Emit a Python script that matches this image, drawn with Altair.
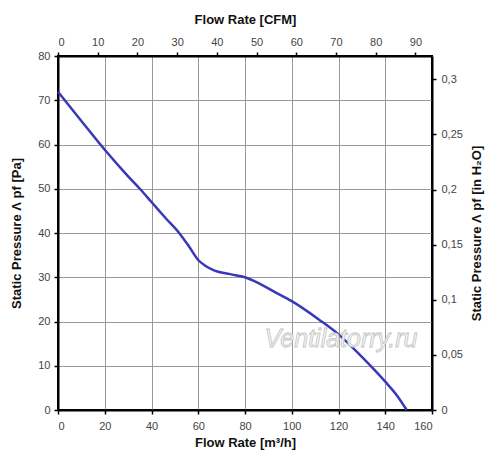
import altair as alt
import pandas as pd

# Fan curve: flow (m3/h) vs static pressure (Pa)
flow = [0, 10, 20, 30, 35, 40, 46, 52, 56, 60, 63, 67, 73.6, 80, 86.4, 93, 100, 112, 120, 130, 140, 145, 149.2]
pressure = [71.9, 65.3, 58.8, 52.8, 50.0, 47.0, 43.4, 39.9, 37.0, 33.9, 32.6, 31.5, 30.7, 30.0, 28.5, 26.6, 24.6, 20.3, 17.1, 12.0, 6.4, 3.3, 0]

x_ticks = [0, 20, 40, 60, 80, 100, 120, 140, 160]
y_ticks = [0, 10, 20, 30, 40, 50, 60, 70, 80]
cfm_ticks = [0, 10, 20, 30, 40, 50, 60, 70, 80, 90]
inh2o_ticks = [0, 0.05, 0.1, 0.15, 0.2, 0.25, 0.3]

M3H_PER_CFM = 1.699
PA_PER_INH2O = 249.089

df = pd.DataFrame({"flow": flow, "pressure": pressure})

font = "Liberation Sans"
common_axis = dict(
    labelFont=font, labelFontSize=11, labelColor="#444444",
    titleFont=font, titleFontSize=13, titleFontWeight="bold", titleColor="#111111",
    domainColor="#000000", domainWidth=2, tickColor="#000000", tickWidth=1.5, tickSize=4,
)

main = alt.Chart(df).mark_line(color="#3838b8", strokeWidth=2.5, interpolate="monotone").encode(
    x=alt.X("flow:Q",
            scale=alt.Scale(domain=[0, 160], nice=False),
            axis=alt.Axis(title="Flow Rate [m³/h]", values=x_ticks, grid=True,
                          gridColor="#999999", gridWidth=1, labelPadding=6,
                          titlePadding=5, **common_axis)),
    y=alt.Y("pressure:Q",
            scale=alt.Scale(domain=[0, 80], nice=False),
            axis=alt.Axis(title="Static Pressure Λ pf [Pa]", values=y_ticks, grid=True,
                          gridColor="#999999", gridWidth=1, labelPadding=4,
                          titleAngle=270, titleBaseline="bottom",
                          titleX=-35, titleY=177, **common_axis)),
)

second = alt.Chart(df).transform_calculate(
    cfm=f"datum.flow / {M3H_PER_CFM}",
    inh2o=f"datum.pressure / {PA_PER_INH2O}",
).mark_line(opacity=0).encode(
    x=alt.X("cfm:Q",
            scale=alt.Scale(domain=[0, 160 / M3H_PER_CFM], nice=False),
            axis=alt.Axis(orient="top", title="Flow Rate [CFM]", values=cfm_ticks,
                          grid=False, labelPadding=5, titlePadding=10, **common_axis)),
    y=alt.Y("inh2o:Q",
            scale=alt.Scale(domain=[0, 80 / PA_PER_INH2O], nice=False),
            axis=alt.Axis(orient="right", title="Static Pressure Λ pf [in H₂O]",
                          values=inh2o_ticks, grid=False, labelPadding=5,
                          labelExpr="replace(format(datum.value, '.2~f'), '.', ',')",
                          titleAngle=270, titleBaseline="bottom",
                          titleX=51, titleY=177, **common_axis)),
)

watermark = alt.Chart(pd.DataFrame({"t": ["Ventilatorry.ru"]})).mark_text(
    font=font, fontSize=25, fontStyle="italic", fill="#f6f6f6",
    stroke="#c4c4c4", strokeWidth=0.8, align="center", baseline="middle",
).encode(x=alt.value(283), y=alt.value(283), text="t:N")

chart = alt.layer(main, second, watermark).resolve_scale(
    x="independent", y="independent"
).properties(
    width=374, height=354,
    autosize=alt.AutoSizeParams(type="none"),
    padding={"left": 50, "top": 48, "right": 60, "bottom": 55},
    background="white",
).configure_view(stroke="#000000", strokeWidth=2)

chart.save("out.html", embed_options={"renderer": "svg", "actions": False})
